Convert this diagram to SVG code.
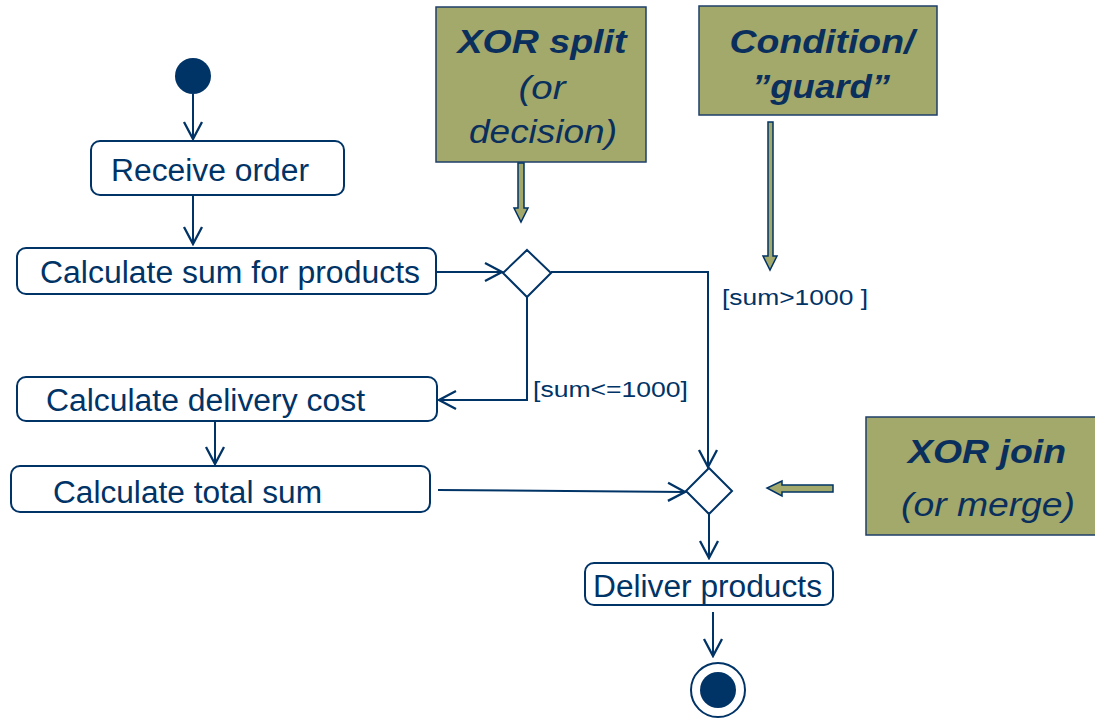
<svg xmlns="http://www.w3.org/2000/svg" width="1095" height="718" viewBox="0 0 1095 718">
<defs>
<style>
.box{fill:#fff;stroke:#003366;stroke-width:2}
.lbl{font-family:"Liberation Sans",Arial,sans-serif;font-size:31px;fill:#003366}
.grd{font-family:"Liberation Sans",Arial,sans-serif;font-size:22px;fill:#003366}
.note{fill:#a3a86b;stroke:#1f3f6a;stroke-width:1.5}
.nt{font-family:"Liberation Sans",Arial,sans-serif;font-size:33px;fill:#0a2f5c;font-style:italic;text-anchor:middle}
.nb{font-weight:bold}
.ln{fill:none;stroke:#003366;stroke-width:2}
.blk{fill:#a3a86b;stroke:#003366;stroke-width:1.5}
.dia{fill:#fff;stroke:#003366;stroke-width:2}
</style>
<marker id="open" viewBox="0 0 24 24" refX="22" refY="12" markerWidth="24" markerHeight="24" markerUnits="userSpaceOnUse" orient="auto">
<path d="M5,3 L22,12 L5,21" fill="none" stroke="#003366" stroke-width="2.3"/>
</marker>
</defs>
<rect width="1095" height="718" fill="#fff"/>

<g id="connectors">
<line class="ln" x1="193" y1="94" x2="193" y2="139" marker-end="url(#open)"/>
<line class="ln" x1="193" y1="195" x2="193" y2="244" marker-end="url(#open)"/>
<line class="ln" x1="436" y1="272" x2="502" y2="272" marker-end="url(#open)"/>
<polyline class="ln" points="551,272 708,272 708,467" marker-end="url(#open)"/>
<polyline class="ln" points="527,297 527,400 439,400" marker-end="url(#open)"/>
<line class="ln" x1="215" y1="421" x2="215" y2="464" marker-end="url(#open)"/>
<line class="ln" x1="438" y1="490" x2="685" y2="492" marker-end="url(#open)"/>
<line class="ln" x1="709" y1="514" x2="709" y2="558" marker-end="url(#open)"/>
<line class="ln" x1="713" y1="612" x2="713" y2="656" marker-end="url(#open)"/>
<text class="grd" x="722" y="305" textLength="146" lengthAdjust="spacingAndGlyphs">[sum&gt;1000 ]</text>
<text class="grd" x="533" y="397" textLength="155" lengthAdjust="spacingAndGlyphs">[sum&lt;=1000]</text>
</g>

<g id="start"><circle cx="193" cy="76" r="18" fill="#003366"/></g>

<g id="receive-order">
<rect class="box" x="91" y="141" width="253" height="54" rx="9"/>
<text class="lbl" x="111" y="181" textLength="198" lengthAdjust="spacingAndGlyphs">Receive order</text>
</g>

<g id="calc-sum">
<rect class="box" x="17" y="248" width="419" height="46" rx="9"/>
<text class="lbl" x="40" y="283" textLength="380" lengthAdjust="spacingAndGlyphs">Calculate sum for products</text>
</g>

<g id="decision">
<polygon class="dia" points="527,250 551,273 527,297 503,273"/>
</g>

<g id="calc-delivery">
<rect class="box" x="17" y="377" width="420" height="44" rx="9"/>
<text class="lbl" x="46" y="411" textLength="319" lengthAdjust="spacingAndGlyphs">Calculate delivery cost</text>
</g>

<g id="calc-total">
<rect class="box" x="11" y="466" width="419" height="46" rx="9"/>
<text class="lbl" x="53" y="503" textLength="269" lengthAdjust="spacingAndGlyphs">Calculate total sum</text>
</g>

<g id="merge">
<polygon class="dia" points="709,468 732,491 709,514 686,491"/>
</g>

<g id="deliver">
<rect class="box" x="585" y="563" width="248" height="42" rx="9"/>
<text class="lbl" x="593" y="597" textLength="229" lengthAdjust="spacingAndGlyphs">Deliver products</text>
</g>

<g id="end">
<circle cx="718" cy="690" r="27" fill="#fff" stroke="#003366" stroke-width="2"/>
<circle cx="718" cy="690" r="18" fill="#003366"/>
</g>

<g id="note-split">
<rect class="note" x="436" y="7" width="210" height="155"/>
<text class="nt nb" x="542" y="53" textLength="169" lengthAdjust="spacingAndGlyphs">XOR split</text>
<text class="nt" x="542" y="99" textLength="47" lengthAdjust="spacingAndGlyphs">(or</text>
<text class="nt" x="543" y="143" textLength="148" lengthAdjust="spacingAndGlyphs">decision)</text>
<polygon class="blk" points="518,163 524,163 524,208 528,208 521,222 514,208 518,208"/>
</g>

<g id="note-guard">
<rect class="note" x="699" y="6" width="238" height="109"/>
<text class="nt nb" x="822" y="53" textLength="185" lengthAdjust="spacingAndGlyphs">Condition/</text>
<text class="nt nb" x="821" y="98" textLength="138" lengthAdjust="spacingAndGlyphs">”guard”</text>
<polygon class="blk" points="768,122 773,122 773,256 777,256 770,270 763,256 768,256"/>
</g>

<g id="note-join">
<rect class="note" x="866" y="417" width="231" height="118"/>
<text class="nt nb" x="987" y="463" textLength="158" lengthAdjust="spacingAndGlyphs">XOR join</text>
<text class="nt" x="988" y="516" textLength="174" lengthAdjust="spacingAndGlyphs">(or merge)</text>
<polygon class="blk" points="833,485 833,492 782,492 782,496 767,488 782,481 782,485"/>
</g>
</svg>
